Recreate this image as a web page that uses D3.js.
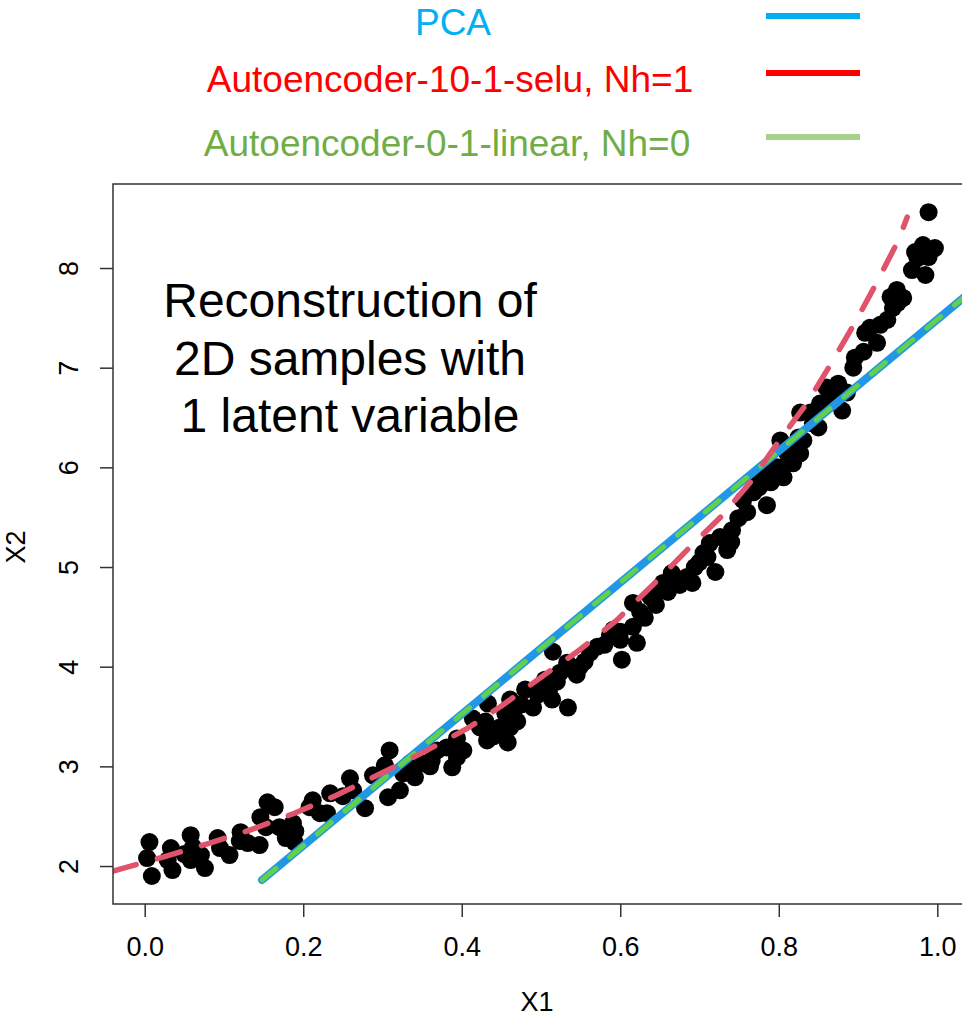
<!DOCTYPE html>
<html>
<head>
<meta charset="utf-8">
<script src="https://cdn.jsdelivr.net/npm/d3@7"></script>
<style>
  body { margin: 0; background: #fff; }
  text { font-family: "Liberation Sans", Arial, sans-serif; }
</style>
</head>
<body>
<script>
// samples (X1, X2)
const sampleX1 = [0.006, 0.003, 0.009, 0.033, 0.029, 0.035, 0.058, 0.061, 0.058, 0.076, 0.071, 0.092, 0.095, 0.107,
  0.121, 0.130, 0.145, 0.146, 0.155, 0.164, 0.153, 0.170, 0.178, 0.187, 0.189, 0.212, 0.221, 0.234, 0.208, 0.230,
  0.259, 0.263, 0.278, 0.288, 0.309, 0.303, 0.307, 0.322, 0.326, 0.341, 0.350, 0.335, 0.362, 0.369, 0.381, 0.388,
  0.394, 0.402, 0.394, 0.414, 0.423, 0.433, 0.432, 0.448, 0.455, 0.458, 0.461, 0.461, 0.465, 0.490, 0.501, 0.514,
  0.515, 0.534, 0.533, 0.524, 0.549, 0.562, 0.571, 0.587, 0.591, 0.602, 0.600, 0.616, 0.616, 0.631, 0.621, 0.638,
  0.654, 0.665, 0.644, 0.667, 0.684, 0.694, 0.691, 0.720, 0.705, 0.713, 0.726, 0.735, 0.749, 0.741, 0.755, 0.768,
  0.785, 0.770, 0.785, 0.798, 0.806, 0.802, 0.811, 0.818, 0.827, 0.831, 0.989, 0.982, 0.972, 0.989, 0.968, 0.985,
  0.949, 0.941, 0.957, 0.944, 0.928, 0.937, 0.909, 0.924, 0.896, 0.907, 0.894, 0.875, 0.871, 0.886, 0.880, 0.865,
  0.852, 0.827, 0.843, 0.850, 0.997, 0.496, 0.505, 0.480,
  0.430, 0.440, 0.470, 0.475, 0.510, 0.520, 0.545, 0.555, 0.580, 0.600, 0.625, 0.645, 0.660, 0.675, 0.700, 0.710,
  0.740, 0.760, 0.775, 0.790, 0.815, 0.825, 0.840, 0.860, 0.915, 0.950, 0.975, 0.360, 0.330, 0.250, 0.190, 0.120, 0.050];
const sampleX2 = [2.24, 2.08, 1.90, 2.18, 2.06, 1.96, 2.31, 2.19, 2.06, 1.98, 2.11, 2.28, 2.18, 2.11,
  2.34, 2.23, 2.21, 2.49, 2.64, 2.59, 2.39, 2.39, 2.28, 2.43, 2.24, 2.66, 2.53, 2.73, 2.59, 2.53,
  2.88, 2.76, 2.58, 2.91, 3.16, 3.01, 2.69, 2.76, 2.93, 2.89, 3.03, 3.03, 3.06, 3.16, 3.19, 2.99,
  3.09, 3.16, 3.28, 3.48, 3.39, 3.63, 3.26, 3.39, 3.53, 3.24, 3.67, 3.39, 3.53, 3.59, 3.80, 3.67,
  4.15, 3.59, 4.04, 3.94, 4.00, 4.14, 4.20, 4.32, 4.37, 4.07, 4.27, 4.64, 4.40, 4.49, 4.24, 4.70,
  4.84, 4.94, 4.74, 4.87, 4.90, 5.00, 4.84, 4.95, 5.14, 5.24, 5.30, 5.17, 5.49, 5.37, 5.67, 5.75,
  5.62, 5.87, 5.97, 6.00, 5.90, 6.27, 6.14, 6.04, 6.14, 6.27, 8.56, 8.23, 8.16, 8.11, 7.98, 7.93,
  7.78, 7.71, 7.70, 7.60, 7.43, 7.48, 7.35, 7.25, 7.10, 7.16, 7.00, 6.84, 6.74, 6.75, 6.57, 6.70,
  6.64, 6.55, 6.44, 6.40, 8.20, 3.72, 3.87, 3.77,
  3.45, 3.30, 3.45, 3.62, 3.75, 3.85, 3.92, 4.05, 4.22, 4.35, 4.55, 4.62, 4.75, 4.82, 5.05, 5.10,
  5.25, 5.55, 5.80, 5.85, 6.20, 6.30, 6.55, 6.80, 7.40, 7.65, 8.10, 3.00, 2.95, 2.70, 2.35, 2.25, 2.12];

// autoencoder 10-1-selu reconstruction (curve)
const seluX = [-0.040, 0.023, 0.082, 0.136, 0.189, 0.242, 0.301, 0.356, 0.407, 0.451, 0.501, 0.549,
  0.596, 0.641, 0.688, 0.729, 0.764, 0.799, 0.836, 0.869, 0.896, 0.924, 0.951, 0.962];
const seluY = [1.95, 2.09, 2.23, 2.37, 2.53, 2.71, 2.94, 3.16, 3.38, 3.61, 3.90, 4.17,
  4.47, 4.82, 5.20, 5.52, 5.85, 6.25, 6.65, 7.08, 7.45, 7.86, 8.28, 8.51];

// PCA and linear autoencoder reconstructions (straight lines)
const pcaX = [0.148, 1.06];
const pcaY = [1.86, 7.88];
const linX = [0.148, 1.06];
const linY = [1.86, 7.88];

const xTicks = [0, 0.2, 0.4, 0.6, 0.8, 1.0];
const yTicks = [2, 3, 4, 5, 6, 7, 8];

const legendNames = ['PCA', 'Autoencoder-10-1-selu, Nh=1', 'Autoencoder-0-1-linear, Nh=0'];
const legendText = ['#00B0F0', '#FF0000', '#70AD47'];
const legendLine = ['#00B0F0', '#FF0000', '#A9D18E'];

const width = 962, height = 1023;
const pLeft = 113, pRight = 969, pTop = 184, pBottom = 904;

const svg = d3.select('body').append('svg')
  .attr('width', width)
  .attr('height', height);

const x = d3.scaleLinear().domain([-0.04, 1.04]).range([pLeft, pRight]);
const y = d3.scaleLinear().domain([1.619, 8.843]).range([pBottom, pTop]);

svg.append('clipPath').attr('id', 'plotclip')
  .append('rect')
  .attr('x', pLeft).attr('y', pTop)
  .attr('width', pRight - pLeft).attr('height', pBottom - pTop);

const plot = svg.append('g').attr('clip-path', 'url(#plotclip)');

// points
plot.selectAll('circle')
  .data(sampleX1)
  .enter()
  .append('circle')
  .attr('cx', (d) => x(d))
  .attr('cy', (d, i) => y(sampleX2[i]))
  .attr('r', 9)
  .attr('fill', '#000');

const line = d3.line()
  .x((d) => x(d[0]))
  .y((d) => y(d[1]));

plot.append('path')
  .datum(pcaX.map((d, i) => [d, pcaY[i]]))
  .attr('d', line)
  .attr('fill', 'none')
  .attr('stroke', '#2297E6')
  .attr('stroke-width', 8)
  .attr('stroke-linecap', 'round');

plot.append('path')
  .datum(linX.map((d, i) => [d, linY[i]]))
  .attr('d', line)
  .attr('fill', 'none')
  .attr('stroke', '#61D04F')
  .attr('stroke-width', 5)
  .attr('stroke-dasharray', '18,18')
  .attr('stroke-linecap', 'round');

plot.append('path')
  .datum(seluX.map((d, i) => [d, seluY[i]]))
  .attr('d', line)
  .attr('fill', 'none')
  .attr('stroke', '#DF536B')
  .attr('stroke-width', 5.5)
  .attr('stroke-dasharray', '24,22')
  .attr('stroke-linecap', 'round');

// box
svg.append('rect')
  .attr('x', pLeft).attr('y', pTop)
  .attr('width', pRight - pLeft).attr('height', pBottom - pTop)
  .attr('fill', 'none')
  .attr('stroke', '#333')
  .attr('stroke-width', 1.5);

// axes
const xAxis = d3.axisBottom(x).tickValues(xTicks).tickFormat(d3.format('.1f')).tickSize(13).tickPadding(14);
const gx = svg.append('g').attr('transform', `translate(0,${pBottom})`).call(xAxis);
gx.select('.domain').remove();
gx.selectAll('line').attr('stroke', '#333').attr('stroke-width', 1.5);
gx.selectAll('text').attr('font-size', 27).attr('fill', '#000')
  .attr('font-family', '"Liberation Sans", Arial, sans-serif')
  .attr('dy', null).attr('y', 52);

const yAxis = d3.axisLeft(y).tickValues(yTicks).tickFormat(d3.format('d')).tickSize(13);
const gy = svg.append('g').attr('transform', `translate(${pLeft},0)`).call(yAxis);
gy.select('.domain').remove();
gy.selectAll('line').attr('stroke', '#333').attr('stroke-width', 1.5);
gy.selectAll('text')
  .attr('font-size', 27).attr('fill', '#000')
  .attr('font-family', '"Liberation Sans", Arial, sans-serif')
  .attr('x', null).attr('dy', null)
  .attr('text-anchor', 'middle')
  .attr('transform', 'translate(-45,0) rotate(-90)')
  .attr('y', 10);

svg.append('text')
  .attr('x', 537).attr('y', 1011)
  .attr('text-anchor', 'middle')
  .attr('font-size', 27)
  .text('X1');

svg.append('text')
  .attr('transform', 'translate(25,547) rotate(-90)')
  .attr('text-anchor', 'middle')
  .attr('font-size', 27)
  .text('X2');

// annotation
const note = ['Reconstruction of', '2D samples with', '1 latent variable'];
svg.append('g').selectAll('text')
  .data(note)
  .enter()
  .append('text')
  .attr('x', 350)
  .attr('y', (d, i) => 317 + i * 57.5)
  .attr('text-anchor', 'middle')
  .attr('font-size', 48)
  .attr('fill', '#000')
  .text((d) => d);

// legend
const legendY = [16, 73, 137];
const legendCx = [453, 450, 447];
const leg = svg.append('g');
leg.selectAll('text')
  .data(legendNames)
  .enter()
  .append('text')
  .attr('x', (d, i) => legendCx[i])
  .attr('y', (d, i) => legendY[i] + 19)
  .attr('text-anchor', 'middle')
  .attr('font-size', 37)
  .attr('fill', (d, i) => legendText[i])
  .text((d) => d);

leg.selectAll('line')
  .data(legendNames)
  .enter()
  .append('line')
  .attr('x1', 766).attr('x2', 860)
  .attr('y1', (d, i) => legendY[i]).attr('y2', (d, i) => legendY[i])
  .attr('stroke', (d, i) => legendLine[i])
  .attr('stroke-width', 6);
</script>
</body>
</html>
